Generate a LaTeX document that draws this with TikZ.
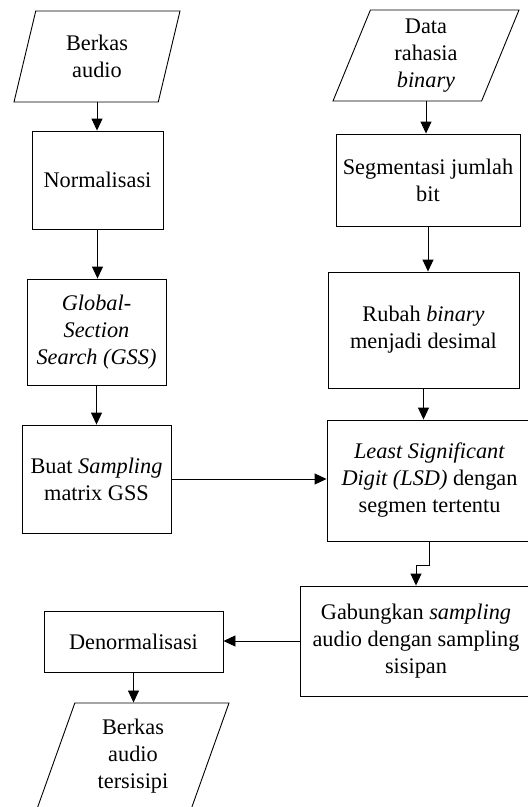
\documentclass[tikz,border=0pt]{standalone}
\usepackage{fontspec}
\setmainfont{Liberation Serif}
\usetikzlibrary{arrows.meta,shapes.geometric}

\begin{document}
\begin{tikzpicture}[
    x=1pt, y=-1pt,
    line width=0.9pt,
    >={Triangle[width=11pt,length=12pt]},
    font=\fontsize{22.3}{27}\selectfont,
    procbox/.style={draw, rectangle, align=center, inner sep=0pt},
    iobox/.style={draw, trapezium, trapezium left angle=63, trapezium right angle=117,
      trapezium stretches body, align=center, inner sep=0pt}
]
  \clip (0,0) rectangle (528,807);

  % left column
  \node[iobox, minimum width=166, minimum height=91] (audio) at (97,56.5) {Berkas\\audio};
  \node[procbox, minimum width=131, minimum height=98] (norm) at (97.5,180) {Normalisasi};
  \node[procbox, minimum width=139, minimum height=106] (gss) at (96.5,332)
    {\textit{Global-}\\\textit{Section}\\\textit{Search (GSS)}};
  \node[procbox, minimum width=149, minimum height=108] (sampmat) at (96.5,479)
    {Buat \textit{Sampling}\\matrix GSS};

  % right column
  \node[iobox, minimum width=186, minimum height=91] (secret) at (426,55.5)
    {Data\\rahasia\\\textit{binary}};
  \node[procbox, minimum width=184, minimum height=92] (segment) at (428,180)
    {Segmentasi jumlah\\bit};
  \node[procbox, minimum width=191, minimum height=116] (todec) at (423.5,330)
    {Rubah \textit{binary}\\menjadi desimal};
  \node[procbox, minimum width=205, minimum height=121] (lsd) at (429.5,480.5)
    {\textit{Least Significant}\\\textit{Digit (LSD)} dengan\\segmen tertentu};
  \node[procbox, minimum width=232, minimum height=110] (merge) at (416,641)
    {Gabungkan \textit{sampling}\\audio dengan sampling\\sisipan};

  % bottom
  \node[procbox, minimum width=179, minimum height=61] (denorm) at (133.5,641.5) {Denormalisasi};
  \node[iobox, minimum width=192, minimum height=106] (output) at (133,756)
    {Berkas\\audio\\tersisipi};

  \draw[->] (audio.south) -- (audio.south |- norm.north);
  \draw[->] (norm.south) -- (norm.south |- gss.north);
  \draw[->] (gss.south) -- (gss.south |- sampmat.north);
  \draw[->] (sampmat.east) -- (sampmat.east -| lsd.west);

  \draw[->] (secret.south) -- (secret.south |- segment.north);
  \draw[->] (segment.south) -- (segment.south |- todec.north);
  \draw[->] (todec.south) -- (todec.south |- lsd.north);
  \draw[->] (lsd.south) -- ++(0,24) -| (merge.north);

  \draw[->] (merge.west) -- (merge.west -| denorm.east);
  \draw[->] (denorm.south) -- (denorm.south |- output.north);
\end{tikzpicture}
\end{document}
